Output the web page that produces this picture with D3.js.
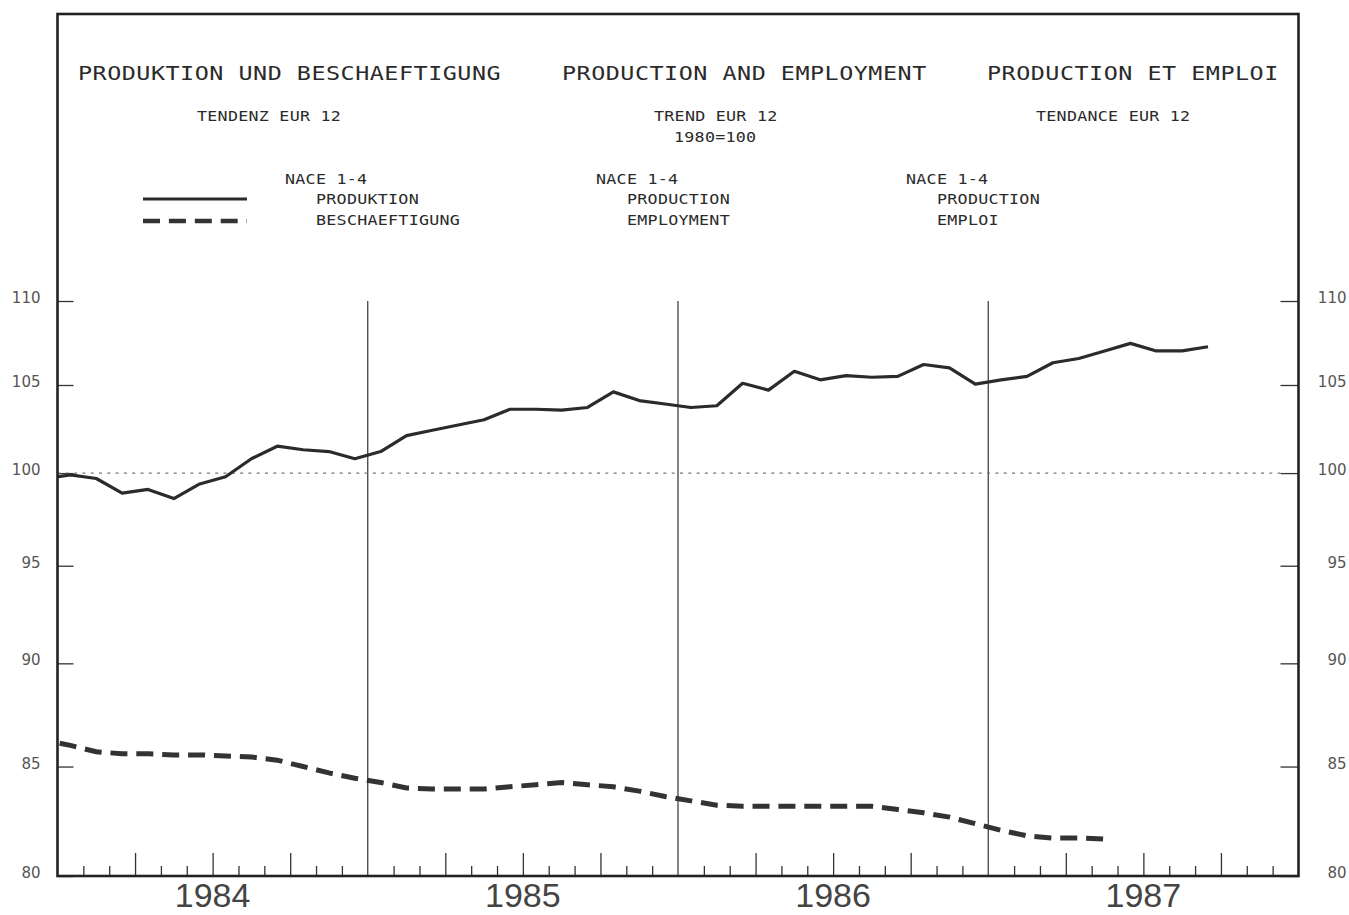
<!DOCTYPE html>
<html><head><meta charset="utf-8">
<script src="https://cdn.jsdelivr.net/npm/d3@7"></script>
<style>body{margin:0;background:#fff;overflow:hidden}</style>
</head><body>
<svg id="chart" width="1349" height="915"></svg>
<script>
// ---- data ----
const years = ["1984", "1985", "1986", "1987"];
const firstMonth = "1983-12"; // first value is Dec 1983 (runs off the left frame)
const production = [99.7,
  99.9, 99.7, 98.9, 99.1, 98.6, 99.4, 99.8, 100.8, 101.5, 101.3, 101.2, 100.8,
  101.2, 102.1, 102.4, 102.7, 103.0, 103.6, 103.6, 103.55, 103.7, 104.6, 104.1, 103.9,
  103.7, 103.8, 105.1, 104.7, 105.8, 105.3, 105.55, 105.45, 105.5, 106.2, 106.0, 105.05,
  105.3, 105.5, 106.3, 106.55, 107.0, 107.45, 107.0, 107.0, 107.25];
const employment = [86.25,
  86.0, 85.7, 85.6, 85.6, 85.55, 85.55, 85.5, 85.45, 85.3, 85.0, 84.7, 84.45,
  84.25, 84.0, 83.95, 83.95, 83.95, 84.05, 84.15, 84.25, 84.15, 84.05, 83.85, 83.6,
  83.4, 83.2, 83.15, 83.15, 83.15, 83.15, 83.15, 83.15, 83.0, 82.85, 82.65, 82.35,
  82.05, 81.8, 81.7, 81.7, 81.65];
const yTicks = [80, 85, 90, 95, 100, 105, 110];
const titles = ["PRODUKTION UND BESCHAEFTIGUNG", "PRODUCTION AND EMPLOYMENT", "PRODUCTION ET EMPLOI"];
const subtitles = [["TENDENZ EUR 12"], ["TREND EUR 12", "1980=100"], ["TENDANCE EUR 12"]];
const legendBlocks = [
  ["NACE 1-4", "PRODUKTION", "BESCHAEFTIGUNG"],
  ["NACE 1-4", "PRODUCTION", "EMPLOYMENT"],
  ["NACE 1-4", "PRODUCTION", "EMPLOI"]
];

// ---- layout ----
const svg = d3.select("#chart");
const L = 57.5, R = 1298.5, T = 14, B = 876;
const nMonths = years.length * 12;
const x = d3.scaleLinear().domain([0, nMonths]).range([L, R]);
const y = d3.scaleLog().domain([80, 110]).range([B, 301]);
const startOffset = -1; // Dec 1983 relative to Jan 1984
const px = (d, i) => x(startOffset + i + 0.5);

svg.append("defs").append("clipPath").attr("id", "clip")
  .append("rect").attr("x", L).attr("y", T).attr("width", R - L).attr("height", B - T);

const mono = "'DejaVu Sans Mono', monospace";
function monoText(str, xLeft, baseline, fs, charW, sx) {
  svg.append("text").attr("transform", `translate(${xLeft},${baseline}) scale(${sx},1)`)
    .attr("font-family", mono).attr("font-size", fs)
    .attr("letter-spacing", (charW / sx - 0.602 * fs).toFixed(2))
    .attr("fill", "#2a2a2a").text(str);
}

// titles
const titleX = [78, 562, 987];
titles.forEach((t, i) => monoText(t, titleX[i], 80, 19.5, 14.6, 1.2));
// subtitles
const subX = [[197], [654, 674], [1036]];
subtitles.forEach((arr, i) => arr.forEach((t, j) => monoText(t, subX[i][j], 121 + j * 21, 14.5, 10.3, 1.15)));
// legend texts
const legX = [285, 596, 906];
legendBlocks.forEach((arr, i) => {
  monoText(arr[0], legX[i], 184, 14.5, 10.3, 1.15);
  monoText(arr[1], legX[i] + 31, 204, 14.5, 10.3, 1.15);
  monoText(arr[2], legX[i] + 31, 225, 14.5, 10.3, 1.15);
});
// legend samples
svg.append("line").attr("x1", 143).attr("x2", 247).attr("y1", 199).attr("y2", 199)
  .attr("stroke", "#2b2b2b").attr("stroke-width", 3.2);
svg.append("line").attr("x1", 143).attr("x2", 247).attr("y1", 221).attr("y2", 221)
  .attr("stroke", "#333").attr("stroke-width", 4.5).attr("stroke-dasharray", "17,8.9");

// ---- axes ----
const gl = svg.append("g").attr("transform", `translate(${L},0)`)
  .call(d3.axisLeft(y).tickValues(yTicks).tickFormat(d3.format("d"))
    .tickSizeInner(-16).tickSizeOuter(0).tickPadding(17));
const gr = svg.append("g").attr("transform", `translate(${R},0)`)
  .call(d3.axisRight(y).tickValues(yTicks).tickFormat(d3.format("d"))
    .tickSizeInner(-18).tickSizeOuter(0).tickPadding(48));
[gl, gr].forEach(g => {
  g.select(".domain").remove();
  g.selectAll(".tick line").attr("stroke", "#333").attr("stroke-width", 1.3);
  g.selectAll(".tick text").attr("font-family", "'DejaVu Sans', sans-serif")
    .attr("font-size", 15).attr("fill", "#555").attr("dy", "0.1em");
});
gr.selectAll(".tick text").attr("text-anchor", "end");

// bottom month ticks
const months = d3.range(1, nMonths);
const gm = svg.append("g").attr("transform", `translate(0,${B})`)
  .call(d3.axisBottom(x).tickValues(months.filter(m => m % 3 !== 0))
    .tickSizeInner(-10).tickSizeOuter(0).tickFormat(""));
const gq = svg.append("g").attr("transform", `translate(0,${B})`)
  .call(d3.axisBottom(x).tickValues(months.filter(m => m % 3 === 0 && m % 12 !== 0))
    .tickSizeInner(-23).tickSizeOuter(0).tickFormat(""));
[gm, gq].forEach(g => {
  g.select(".domain").remove();
  g.selectAll(".tick line").attr("stroke", "#333").attr("stroke-width", 1.3);
});

// year separators
svg.append("g").selectAll("line").data(months.filter(m => m % 12 === 0)).join("line")
  .attr("x1", d => x(d)).attr("x2", d => x(d)).attr("y1", y(110)).attr("y2", B)
  .attr("stroke", "#333").attr("stroke-width", 1.2);

// year labels
svg.append("g").selectAll("text").data(years).join("text")
  .attr("x", (d, i) => x(i * 12 + 6)).attr("y", 907)
  .attr("text-anchor", "middle").attr("font-family", "'Liberation Sans', sans-serif")
  .attr("font-size", 34).attr("fill", "#444").text(d => d);

// 100 reference line
svg.append("line").attr("x1", L).attr("x2", R - 18).attr("y1", y(100)).attr("y2", y(100))
  .attr("stroke", "#777").attr("stroke-width", 1.2).attr("stroke-dasharray", "3,5.3");

// ---- series ----
const plot = svg.append("g").attr("clip-path", "url(#clip)");
const line = d3.line().x(px).y(d => y(d));
plot.append("path").datum(employment).attr("d", line).attr("fill", "none")
  .attr("stroke", "#333").attr("stroke-width", 5)
  .attr("stroke-dasharray", "17,8.9").attr("stroke-dashoffset", 10.5);
plot.append("path").datum(production).attr("d", line).attr("fill", "none")
  .attr("stroke", "#2b2b2b").attr("stroke-width", 3.2).attr("stroke-linejoin", "round");

// frame
svg.append("rect").attr("x", L).attr("y", T).attr("width", R - L).attr("height", B - T)
  .attr("fill", "none").attr("stroke", "#222").attr("stroke-width", 2.6);
</script>
</body></html>
